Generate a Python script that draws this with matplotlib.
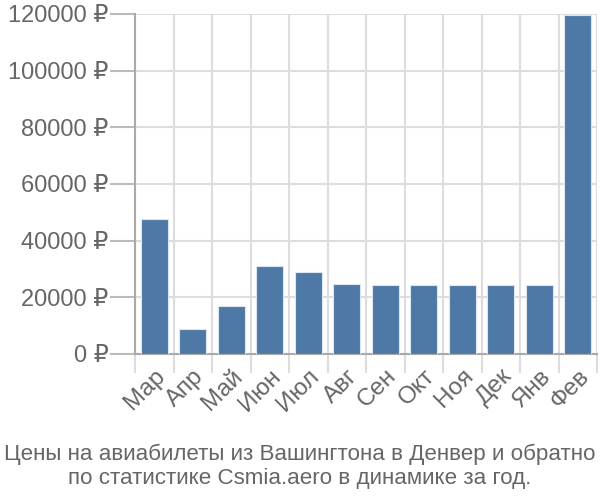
import matplotlib
matplotlib.use("Agg")
import matplotlib.pyplot as plt
import numpy as np

months = ["Мар", "Апр", "Май", "Июн", "Июл", "Авг", "Сен", "Окт", "Ноя", "Дек", "Янв", "Фев"]
prices = [47600, 8800, 17000, 31000, 28900, 24700, 24400, 24400, 24400, 24400, 24400, 119500]
yticks = [0, 20000, 40000, 60000, 80000, 100000, 120000]
title = "Цены на авиабилеты из Вашингтона в Денвер и обратно\nпо статистике Csmia.aero в динамике за год."

plt.rcParams['font.family'] = ['Liberation Sans', 'DejaVu Sans']
text_color = '#666666'

fig = plt.figure(figsize=(6, 5), dpi=100)
ax = fig.add_axes([0.225, 0.292, 0.77, 0.68])
x = np.arange(len(months))
ax.bar(x, prices, width=0.7, color='#4e79a7', edgecolor='#dce6f0', linewidth=0.8, zorder=3)

ax.set_xlim(-0.5, len(months) - 0.5)
ax.set_ylim(0, 120000)
ax.set_yticks(yticks)
ax.set_yticklabels([f"{v} ₽" for v in yticks], fontsize=17, color=text_color)
ax.tick_params(axis='y', length=18, color='#bbbbbb', width=1.5, pad=1)
ax.set_xticks(x)
ax.set_xticklabels(months, rotation=45, ha='right', rotation_mode='anchor', fontsize=17.5, color=text_color)
ax.tick_params(axis='x', which='major', length=0, pad=8)
ax.set_xticks(np.arange(-0.5, len(months)), minor=True)
ax.tick_params(axis='x', which='minor', length=14, color='#dddddd', width=1.5)
ax.grid(axis='y', color='#dddddd', linewidth=1.5, zorder=0)
ax.grid(axis='x', which='minor', color='#dddddd', linewidth=1.5, zorder=0)
for s in ['top', 'right']:
    ax.spines[s].set_visible(False)
for s in ['left', 'bottom']:
    ax.spines[s].set_color('#aaaaaa')
    ax.spines[s].set_linewidth(1.5)

fig.text(0.5, 0.022, title, ha='center', va='bottom', fontsize=16.1, color=text_color, linespacing=1.2)
fig.savefig("out.png", dpi=100)
